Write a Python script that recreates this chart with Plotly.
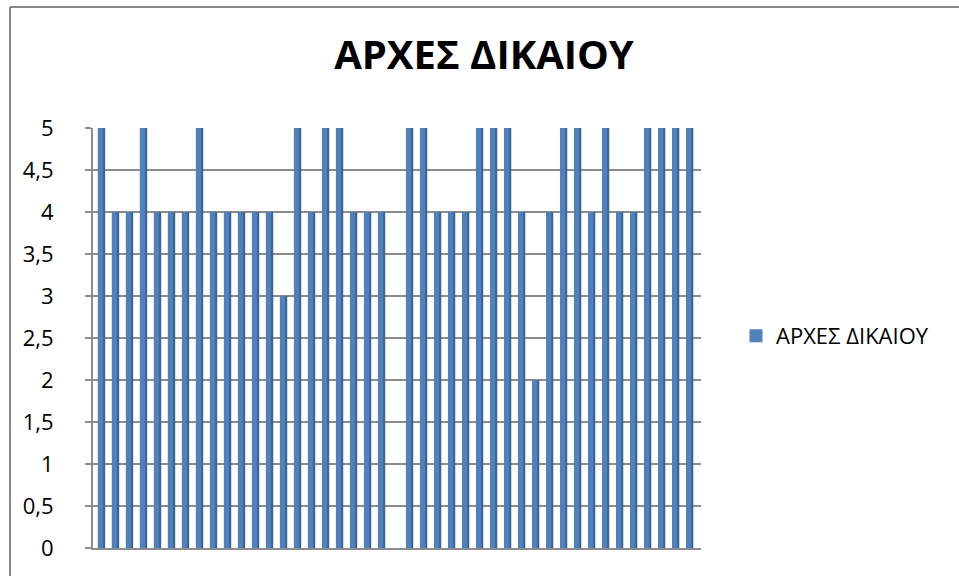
import plotly.graph_objects as go

# Scores per item (43 items)
items = [str(i) for i in range(1, 44)]
scores = [5, 4, 4, 5, 4, 4, 4, 5, 4, 4,
          4, 4, 4, 3, 5, 4, 5, 5, 4, 4,
          4, 0, 5, 5, 4, 4, 4, 5, 5, 5,
          4, 2, 4, 5, 5, 4, 5, 4, 4, 5,
          5, 5, 5]
y_ticks = [0, 0.5, 1, 1.5, 2, 2.5, 3, 3.5, 4, 4.5, 5]

series_name = "ΑΡΧΕΣ ΔΙΚΑΙΟΥ"
front_color = "#4F81BD"
side_color = "#3A6594"
grid_color = "#8C8C8C"
font_family = "Open Sans, Liberation Sans, DejaVu Sans, sans-serif"

# plot area in pixels: x 93..701, y 128..548
PL, PR, PT, PB = 93, 701, 128, 548
PW, PH = PR - PL, PB - PT


def px_x(px):
    return (px - PL) / PW


def px_y(py):
    return (PB - py) / PH


x_pos = list(range(len(items)))

fig = go.Figure()

# darker side face of each column (gives the shaded look)
fig.add_trace(go.Bar(
    x=x_pos, y=scores, width=0.52, offset=-0.27,
    marker=dict(color=side_color, line=dict(width=0)),
    showlegend=False, hoverinfo="skip",
))
# front face of each column
fig.add_trace(go.Bar(
    x=x_pos, y=scores, width=0.37, offset=-0.27,
    name=series_name, showlegend=False,
    marker=dict(color=front_color, line=dict(width=0)),
    hovertext=items,
))
# legend entry with a square key
fig.add_trace(go.Scatter(
    x=[None], y=[None], mode="markers", name=series_name,
    marker=dict(symbol="square", size=13, color=front_color),
))

fig.update_layout(
    width=959, height=576,
    margin=dict(l=PL, r=959 - PR, t=PT, b=576 - PB),
    paper_bgcolor="white", plot_bgcolor="white",
    barmode="overlay",
    separators=", ",
    font=dict(family=font_family, color="#000000", size=22),
    title=dict(
        text="<b>ΑΡΧΕΣ ΔΙΚΑΙΟΥ</b>",
        x=484 / 959, xanchor="center",
        y=1 - 55 / 576, yanchor="middle",
        font=dict(size=40, family=font_family, color="#000000"),
    ),
    legend=dict(
        x=px_x(736), xanchor="left",
        y=px_y(336), yanchor="middle",
        font=dict(size=22),
        bgcolor="rgba(0,0,0,0)",
        itemwidth=30,
    ),
    xaxis=dict(
        range=[-0.62, 42.8],
        showticklabels=False, ticks="",
        showgrid=False, zeroline=False,
        showline=True, linecolor=grid_color, linewidth=2,
        fixedrange=True,
    ),
    yaxis=dict(
        range=[0, 5],
        tickvals=y_ticks,
        ticks="outside", ticklen=6, tickcolor=grid_color, tickwidth=2,
        ticklabelstandoff=27,
        showgrid=True, gridcolor=grid_color, gridwidth=2,
        zeroline=False,
        showline=True, linecolor=grid_color, linewidth=2,
        tickfont=dict(size=22),
        fixedrange=True,
    ),
    shapes=[
        # chart area border (left and top edges)
        dict(type="line", xref="paper", yref="paper",
             x0=px_x(10), x1=1.5, y0=px_y(7), y1=px_y(7),
             line=dict(color="#888888", width=2)),
        dict(type="line", xref="paper", yref="paper",
             x0=px_x(10), x1=px_x(10), y0=px_y(7), y1=-0.2,
             line=dict(color="#888888", width=2)),
    ],
)

fig.write_html("out.html")
